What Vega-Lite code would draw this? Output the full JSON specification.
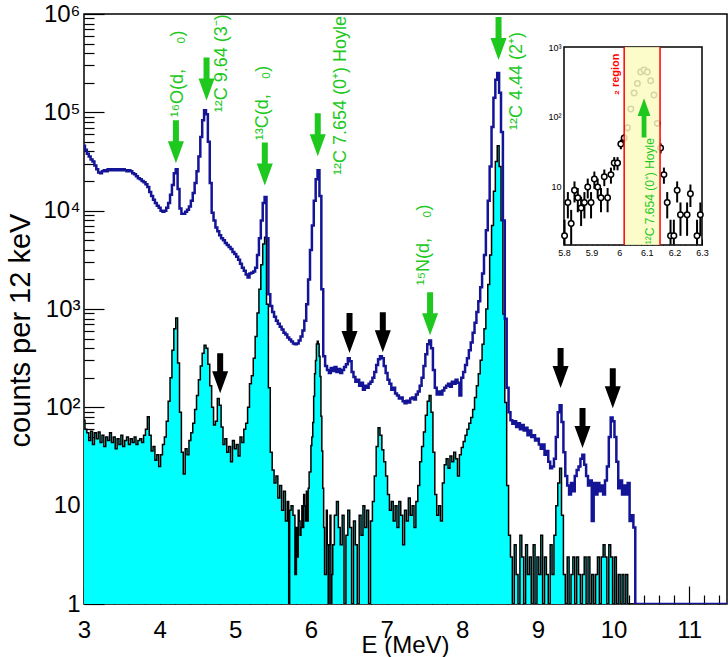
{
"$schema": "https://vega.github.io/schema/vega-lite/v6.json",
"width": 643, "height": 590,
"autosize": "none",
"padding": {"left": 84, "top": 14, "right": 1, "bottom": 53},
"background": "white",
"config": {"view": {"stroke": "black", "strokeWidth": 1.5}, "font": "Liberation Sans", "axis": {"labelOverlap": false, "labelFlush": false, "labelBound": false, "domain": false, "grid": false, "tickColor": "black", "labelColor": "black", "labelFont": "Liberation Sans", "titleFont": "Liberation Sans", "titleColor": "black", "titleFontWeight": "normal", "zindex": 1}},
"datasets": {
"blue": [
{"e":3.000,"n":45700},{"e":3.025,"n":41700},{"e":3.050,"n":38000},{"e":3.075,"n":35500},{"e":3.100,"n":33100},{"e":3.125,"n":31600},{"e":3.150,"n":28800},{"e":3.175,"n":26300},{"e":3.200,"n":24500},{"e":3.225,"n":24000},{"e":3.250,"n":25100},{"e":3.275,"n":25700},{"e":3.300,"n":25100},{"e":3.325,"n":26300},{"e":3.350,"n":25700},{"e":3.375,"n":26300},{"e":3.400,"n":25700},{"e":3.425,"n":26300},{"e":3.450,"n":25700},{"e":3.475,"n":26300},{"e":3.500,"n":25700},{"e":3.525,"n":26300},{"e":3.550,"n":25700},{"e":3.575,"n":25100},{"e":3.600,"n":25700},{"e":3.625,"n":25100},{"e":3.650,"n":24000},{"e":3.675,"n":23400},{"e":3.700,"n":22400},{"e":3.725,"n":21400},{"e":3.750,"n":20900},{"e":3.775,"n":20000},{"e":3.800,"n":19500},{"e":3.825,"n":18600},{"e":3.850,"n":17400},{"e":3.875,"n":15500},{"e":3.900,"n":14100},{"e":3.925,"n":12900},{"e":3.950,"n":12000},{"e":3.975,"n":11200},{"e":4.000,"n":10700},{"e":4.025,"n":10000},{"e":4.050,"n":9770},{"e":4.075,"n":10000},{"e":4.100,"n":10700},{"e":4.125,"n":12000},{"e":4.150,"n":14500},{"e":4.175,"n":18200},{"e":4.200,"n":24000},{"e":4.225,"n":26300},{"e":4.250,"n":16600},{"e":4.275,"n":10500},{"e":4.300,"n":9330},{"e":4.325,"n":9330},{"e":4.350,"n":9770},{"e":4.375,"n":10200},{"e":4.400,"n":11000},{"e":4.425,"n":12600},{"e":4.450,"n":15100},{"e":4.475,"n":19100},{"e":4.500,"n":25100},{"e":4.525,"n":35500},{"e":4.550,"n":56200},{"e":4.575,"n":83200},{"e":4.600,"n":105000},{"e":4.625,"n":95500},{"e":4.650,"n":50100},{"e":4.675,"n":19100},{"e":4.700,"n":9550},{"e":4.725,"n":7940},{"e":4.750,"n":6760},{"e":4.775,"n":6170},{"e":4.800,"n":5620},{"e":4.825,"n":5250},{"e":4.850,"n":5010},{"e":4.875,"n":4680},{"e":4.900,"n":4470},{"e":4.925,"n":4270},{"e":4.950,"n":4070},{"e":4.975,"n":3800},{"e":5.000,"n":3630},{"e":5.025,"n":3390},{"e":5.050,"n":3160},{"e":5.075,"n":2880},{"e":5.100,"n":2630},{"e":5.125,"n":2450},{"e":5.150,"n":2240},{"e":5.175,"n":2090},{"e":5.200,"n":2290},{"e":5.225,"n":2340},{"e":5.250,"n":2400},{"e":5.275,"n":2630},{"e":5.300,"n":3550},{"e":5.325,"n":5250},{"e":5.350,"n":7940},{"e":5.375,"n":12000},{"e":5.400,"n":13800},{"e":5.425,"n":5250},{"e":5.450,"n":1410},{"e":5.475,"n":1070},{"e":5.500,"n":933},{"e":5.525,"n":832},{"e":5.550,"n":759},{"e":5.575,"n":708},{"e":5.600,"n":661},{"e":5.625,"n":617},{"e":5.650,"n":575},{"e":5.675,"n":550},{"e":5.700,"n":513},{"e":5.725,"n":490},{"e":5.750,"n":468},{"e":5.775,"n":447},{"e":5.800,"n":437},{"e":5.825,"n":447},{"e":5.850,"n":479},{"e":5.875,"n":525},{"e":5.900,"n":603},{"e":5.925,"n":759},{"e":5.950,"n":1120},{"e":5.975,"n":1995},{"e":6.000,"n":3980},{"e":6.025,"n":7080},{"e":6.050,"n":12600},{"e":6.075,"n":20900},{"e":6.100,"n":25700},{"e":6.125,"n":14100},{"e":6.150,"n":1585},{"e":6.175,"n":331},{"e":6.200,"n":263},{"e":6.225,"n":240},{"e":6.250,"n":224},{"e":6.275,"n":251},{"e":6.300,"n":234},{"e":6.325,"n":257},{"e":6.350,"n":229},{"e":6.375,"n":245},{"e":6.400,"n":224},{"e":6.425,"n":240},{"e":6.450,"n":257},{"e":6.475,"n":275},{"e":6.500,"n":316},{"e":6.525,"n":295},{"e":6.550,"n":229},{"e":6.575,"n":204},{"e":6.600,"n":182},{"e":6.625,"n":191},{"e":6.650,"n":166},{"e":6.675,"n":178},{"e":6.700,"n":151},{"e":6.725,"n":166},{"e":6.750,"n":158},{"e":6.775,"n":174},{"e":6.800,"n":182},{"e":6.825,"n":200},{"e":6.850,"n":229},{"e":6.875,"n":269},{"e":6.900,"n":309},{"e":6.925,"n":331},{"e":6.950,"n":316},{"e":6.975,"n":263},{"e":7.000,"n":224},{"e":7.025,"n":191},{"e":7.050,"n":174},{"e":7.075,"n":151},{"e":7.100,"n":158},{"e":7.125,"n":138},{"e":7.150,"n":132},{"e":7.175,"n":123},{"e":7.200,"n":126},{"e":7.225,"n":115},{"e":7.250,"n":110},{"e":7.275,"n":117},{"e":7.300,"n":112},{"e":7.325,"n":123},{"e":7.350,"n":126},{"e":7.375,"n":120},{"e":7.400,"n":135},{"e":7.425,"n":145},{"e":7.450,"n":166},{"e":7.475,"n":200},{"e":7.500,"n":263},{"e":7.525,"n":347},{"e":7.550,"n":437},{"e":7.575,"n":479},{"e":7.600,"n":398},{"e":7.625,"n":240},{"e":7.650,"n":158},{"e":7.675,"n":135},{"e":7.700,"n":145},{"e":7.725,"n":135},{"e":7.750,"n":148},{"e":7.775,"n":158},{"e":7.800,"n":166},{"e":7.825,"n":174},{"e":7.850,"n":162},{"e":7.875,"n":182},{"e":7.900,"n":174},{"e":7.925,"n":191},{"e":7.950,"n":178},{"e":7.975,"n":132},{"e":8.000,"n":200},{"e":8.025,"n":229},{"e":8.050,"n":269},{"e":8.075,"n":316},{"e":8.100,"n":380},{"e":8.125,"n":457},{"e":8.150,"n":575},{"e":8.175,"n":724},{"e":8.200,"n":933},{"e":8.225,"n":1200},{"e":8.250,"n":1660},{"e":8.275,"n":2290},{"e":8.300,"n":3550},{"e":8.325,"n":6310},{"e":8.350,"n":12600},{"e":8.375,"n":28200},{"e":8.400,"n":70800},{"e":8.425,"n":141000},{"e":8.450,"n":214000},{"e":8.475,"n":251000},{"e":8.500,"n":158000},{"e":8.525,"n":63100},{"e":8.550,"n":7940},{"e":8.575,"n":794},{"e":8.600,"n":158},{"e":8.625,"n":89},{"e":8.650,"n":74},{"e":8.675,"n":68},{"e":8.700,"n":72},{"e":8.725,"n":63},{"e":8.750,"n":69},{"e":8.775,"n":60},{"e":8.800,"n":66},{"e":8.825,"n":58},{"e":8.850,"n":62},{"e":8.875,"n":52},{"e":8.900,"n":58},{"e":8.925,"n":50},{"e":8.950,"n":52},{"e":8.975,"n":46},{"e":9.000,"n":48},{"e":9.025,"n":42},{"e":9.050,"n":38},{"e":9.075,"n":42},{"e":9.100,"n":33},{"e":9.125,"n":36},{"e":9.150,"n":28},{"e":9.175,"n":24},{"e":9.200,"n":25},{"e":9.225,"n":30},{"e":9.250,"n":50},{"e":9.275,"n":89},{"e":9.300,"n":105},{"e":9.325,"n":71},{"e":9.350,"n":35},{"e":9.375,"n":20},{"e":9.400,"n":16},{"e":9.425,"n":13},{"e":9.450,"n":17},{"e":9.475,"n":14},{"e":9.500,"n":20},{"e":9.525,"n":23},{"e":9.550,"n":25},{"e":9.575,"n":30},{"e":9.600,"n":33},{"e":9.625,"n":26},{"e":9.650,"n":20},{"e":9.675,"n":16},{"e":9.700,"n":18},{"e":9.725,"n":7},{"e":9.750,"n":17},{"e":9.775,"n":13},{"e":9.800,"n":17},{"e":9.825,"n":14},{"e":9.850,"n":16},{"e":9.875,"n":13},{"e":9.900,"n":18},{"e":9.925,"n":25},{"e":9.950,"n":50},{"e":9.975,"n":79},{"e":10.000,"n":72},{"e":10.025,"n":50},{"e":10.050,"n":28},{"e":10.075,"n":15},{"e":10.100,"n":18},{"e":10.125,"n":13},{"e":10.150,"n":16},{"e":10.175,"n":13},{"e":10.200,"n":17},{"e":10.225,"n":7},{"e":10.250,"n":8},{"e":10.275,"n":6},{"e":10.300,"n":1},{"e":11.500,"n":1}
],
"cyan": [
{"e":3.000,"n":74},{"e":3.025,"n":60},{"e":3.050,"n":55},{"e":3.075,"n":46},{"e":3.100,"n":57},{"e":3.125,"n":42},{"e":3.150,"n":55},{"e":3.175,"n":48},{"e":3.200,"n":56},{"e":3.225,"n":44},{"e":3.250,"n":52},{"e":3.275,"n":40},{"e":3.300,"n":50},{"e":3.325,"n":46},{"e":3.350,"n":55},{"e":3.375,"n":44},{"e":3.400,"n":50},{"e":3.425,"n":38},{"e":3.450,"n":48},{"e":3.475,"n":42},{"e":3.500,"n":52},{"e":3.525,"n":40},{"e":3.550,"n":46},{"e":3.575,"n":50},{"e":3.600,"n":42},{"e":3.625,"n":48},{"e":3.650,"n":44},{"e":3.675,"n":50},{"e":3.700,"n":42},{"e":3.725,"n":46},{"e":3.750,"n":48},{"e":3.775,"n":44},{"e":3.800,"n":52},{"e":3.825,"n":60},{"e":3.850,"n":80},{"e":3.875,"n":52},{"e":3.900,"n":36},{"e":3.925,"n":40},{"e":3.950,"n":29},{"e":3.975,"n":33},{"e":4.000,"n":25},{"e":4.025,"n":33},{"e":4.050,"n":42},{"e":4.075,"n":50},{"e":4.100,"n":72},{"e":4.125,"n":115},{"e":4.150,"n":200},{"e":4.175,"n":380},{"e":4.200,"n":630},{"e":4.225,"n":810},{"e":4.250,"n":282},{"e":4.275,"n":89},{"e":4.300,"n":35},{"e":4.325,"n":21},{"e":4.350,"n":38},{"e":4.375,"n":33},{"e":4.400,"n":46},{"e":4.425,"n":55},{"e":4.450,"n":69},{"e":4.475,"n":95},{"e":4.500,"n":132},{"e":4.525,"n":191},{"e":4.550,"n":263},{"e":4.575,"n":355},{"e":4.600,"n":427},{"e":4.625,"n":398},{"e":4.650,"n":275},{"e":4.675,"n":166},{"e":4.700,"n":100},{"e":4.725,"n":66},{"e":4.750,"n":72},{"e":4.775,"n":123},{"e":4.800,"n":105},{"e":4.825,"n":63},{"e":4.850,"n":42},{"e":4.875,"n":48},{"e":4.900,"n":35},{"e":4.925,"n":40},{"e":4.950,"n":28},{"e":4.975,"n":46},{"e":5.000,"n":38},{"e":5.025,"n":42},{"e":5.050,"n":32},{"e":5.075,"n":50},{"e":5.100,"n":44},{"e":5.125,"n":60},{"e":5.150,"n":69},{"e":5.175,"n":100},{"e":5.200,"n":174},{"e":5.225,"n":209},{"e":5.250,"n":316},{"e":5.275,"n":525},{"e":5.300,"n":912},{"e":5.325,"n":1585},{"e":5.350,"n":2820},{"e":5.375,"n":4570},{"e":5.400,"n":5370},{"e":5.425,"n":1120},{"e":5.450,"n":158},{"e":5.475,"n":35},{"e":5.500,"n":23},{"e":5.525,"n":17},{"e":5.550,"n":20},{"e":5.575,"n":12},{"e":5.600,"n":16},{"e":5.625,"n":9},{"e":5.650,"n":14},{"e":5.675,"n":7},{"e":5.700,"n":11},{"e":5.712,"n":1},{"e":5.725,"n":9},{"e":5.750,"n":10},{"e":5.775,"n":8},{"e":5.802,"n":2},{"e":5.814,"n":6},{"e":5.826,"n":3},{"e":5.838,"n":9},{"e":5.850,"n":7},{"e":5.862,"n":5},{"e":5.874,"n":6},{"e":5.886,"n":10},{"e":5.898,"n":6},{"e":5.910,"n":13},{"e":5.922,"n":10},{"e":5.934,"n":7},{"e":5.946,"n":14},{"e":5.958,"n":7},{"e":5.970,"n":15},{"e":5.982,"n":22},{"e":5.994,"n":22},{"e":6.006,"n":41},{"e":6.018,"n":50},{"e":6.030,"n":70},{"e":6.042,"n":130},{"e":6.054,"n":220},{"e":6.066,"n":300},{"e":6.078,"n":440},{"e":6.090,"n":470},{"e":6.102,"n":440},{"e":6.114,"n":330},{"e":6.126,"n":206},{"e":6.138,"n":81},{"e":6.150,"n":36},{"e":6.162,"n":15},{"e":6.174,"n":6},{"e":6.186,"n":2},{"e":6.198,"n":2},{"e":6.210,"n":9},{"e":6.222,"n":4},{"e":6.234,"n":1},{"e":6.246,"n":4},{"e":6.258,"n":8},{"e":6.270,"n":1},{"e":6.282,"n":2},{"e":6.294,"n":4},{"e":6.325,"n":8},{"e":6.350,"n":11},{"e":6.375,"n":6},{"e":6.400,"n":4},{"e":6.425,"n":8},{"e":6.450,"n":1},{"e":6.475,"n":5},{"e":6.500,"n":9},{"e":6.525,"n":6},{"e":6.550,"n":1},{"e":6.575,"n":7},{"e":6.600,"n":4},{"e":6.625,"n":1},{"e":6.650,"n":8},{"e":6.675,"n":5},{"e":6.700,"n":10},{"e":6.725,"n":6},{"e":6.750,"n":9},{"e":6.775,"n":1},{"e":6.800,"n":7},{"e":6.825,"n":11},{"e":6.850,"n":20},{"e":6.875,"n":40},{"e":6.900,"n":62},{"e":6.925,"n":52},{"e":6.950,"n":37},{"e":6.975,"n":28},{"e":7.000,"n":20},{"e":7.025,"n":13},{"e":7.050,"n":9},{"e":7.075,"n":11},{"e":7.100,"n":7},{"e":7.125,"n":10},{"e":7.150,"n":6},{"e":7.175,"n":11},{"e":7.200,"n":8},{"e":7.225,"n":4},{"e":7.250,"n":9},{"e":7.275,"n":7},{"e":7.300,"n":12},{"e":7.325,"n":8},{"e":7.350,"n":10},{"e":7.375,"n":6},{"e":7.400,"n":11},{"e":7.425,"n":16},{"e":7.450,"n":28},{"e":7.475,"n":40},{"e":7.500,"n":56},{"e":7.525,"n":83},{"e":7.550,"n":115},{"e":7.575,"n":132},{"e":7.600,"n":89},{"e":7.625,"n":35},{"e":7.650,"n":13},{"e":7.675,"n":8},{"e":7.700,"n":10},{"e":7.725,"n":7},{"e":7.750,"n":17},{"e":7.775,"n":26},{"e":7.800,"n":30},{"e":7.825,"n":24},{"e":7.850,"n":32},{"e":7.875,"n":28},{"e":7.900,"n":35},{"e":7.925,"n":30},{"e":7.950,"n":20},{"e":7.975,"n":33},{"e":8.000,"n":39},{"e":8.025,"n":45},{"e":8.050,"n":52},{"e":8.075,"n":60},{"e":8.100,"n":69},{"e":8.125,"n":79},{"e":8.150,"n":95},{"e":8.175,"n":126},{"e":8.200,"n":166},{"e":8.225,"n":219},{"e":8.250,"n":302},{"e":8.275,"n":437},{"e":8.300,"n":631},{"e":8.325,"n":1000},{"e":8.350,"n":1780},{"e":8.375,"n":3550},{"e":8.400,"n":7080},{"e":8.425,"n":15800},{"e":8.450,"n":31600},{"e":8.475,"n":45700},{"e":8.500,"n":28200},{"e":8.525,"n":7940},{"e":8.550,"n":891},{"e":8.575,"n":112},{"e":8.600,"n":16},{"e":8.625,"n":5},{"e":8.650,"n":3},{"e":8.675,"n":1},{"e":8.700,"n":4},{"e":8.725,"n":2},{"e":8.750,"n":1},{"e":8.775,"n":5},{"e":8.800,"n":3},{"e":8.825,"n":1},{"e":8.850,"n":4},{"e":8.875,"n":2},{"e":8.900,"n":3},{"e":8.925,"n":1},{"e":8.950,"n":4},{"e":8.975,"n":1},{"e":9.000,"n":3},{"e":9.025,"n":2},{"e":9.050,"n":5},{"e":9.075,"n":1},{"e":9.100,"n":3},{"e":9.125,"n":2},{"e":9.150,"n":1},{"e":9.175,"n":4},{"e":9.200,"n":2},{"e":9.225,"n":5},{"e":9.250,"n":10},{"e":9.275,"n":17},{"e":9.300,"n":24},{"e":9.325,"n":8},{"e":9.350,"n":2},{"e":9.375,"n":1},{"e":9.400,"n":3},{"e":9.425,"n":1},{"e":9.450,"n":2},{"e":9.475,"n":3},{"e":9.500,"n":1},{"e":9.525,"n":3},{"e":9.550,"n":2},{"e":9.575,"n":1},{"e":9.600,"n":2},{"e":9.625,"n":3},{"e":9.650,"n":1},{"e":9.675,"n":3},{"e":9.700,"n":1},{"e":9.725,"n":2},{"e":9.750,"n":1},{"e":9.775,"n":2},{"e":9.800,"n":3},{"e":9.825,"n":1},{"e":9.850,"n":3},{"e":9.875,"n":4},{"e":9.900,"n":3},{"e":9.925,"n":1},{"e":9.950,"n":4},{"e":9.975,"n":3},{"e":10.000,"n":1},{"e":10.025,"n":3},{"e":10.050,"n":1},{"e":10.075,"n":2},{"e":10.100,"n":1},{"e":10.125,"n":2},{"e":10.150,"n":1},{"e":10.175,"n":2},{"e":10.200,"n":1},{"e":11.500,"n":1}
],
"garrows": [{"e":4.215,"n":30300},{"e":4.62,"n":132000},{"e":5.39,"n":18000},{"e":6.09,"n":35700},{"e":7.575,"n":540},{"e":8.48,"n":340000}],
"karrows": [{"e":4.8,"n":139},{"e":6.51,"n":356},{"e":6.95,"n":364},{"e":9.3,"n":157},{"e":9.59,"n":38.5},{"e":9.99,"n":98}],
"labels": [{"e":4.24,"n":89000,"t":"¹⁶O(d,\u00a0\u00a0\u00a0\u00a0\u00a0₀)"},{"e":4.82,"n":100000,"t":"¹²C 9.64 (3⁻)"},{"e":5.36,"n":52000,"t":"¹³C(d,\u00a0\u00a0\u00a0₀)"},{"e":6.40,"n":23000,"t":"¹²C 7.654 (0⁺) Hoyle"},{"e":7.50,"n":1740,"t":"¹⁵N(d,\u00a0\u00a0\u00a0\u00a0₀)"},{"e":8.73,"n":66000,"t":"¹²C 4.44 (2⁺)"}],
"inset": [
{"e":5.802,"n":2,"lo":1.5,"hi":3.4},{"e":5.814,"n":6,"lo":3.55,"hi":8.45},{"e":5.826,"n":3,"lo":1.5,"hi":4.7},{"e":5.838,"n":9,"lo":6,"hi":12},{"e":5.850,"n":7,"lo":4.35,"hi":9.65},{"e":5.862,"n":5,"lo":2.76,"hi":7.24},{"e":5.874,"n":6,"lo":3.55,"hi":8.45},{"e":5.886,"n":10,"lo":6.84,"hi":13.16},{"e":5.898,"n":6,"lo":3.55,"hi":8.45},{"e":5.910,"n":13,"lo":9.39,"hi":16.61},{"e":5.922,"n":10,"lo":6.84,"hi":13.16},{"e":5.934,"n":7,"lo":4.35,"hi":9.65},{"e":5.946,"n":14,"lo":10.26,"hi":17.74},{"e":5.958,"n":7,"lo":4.35,"hi":9.65},{"e":5.970,"n":15,"lo":11.13,"hi":18.87},{"e":5.982,"n":22,"lo":17.3,"hi":26.7},{"e":5.994,"n":22,"lo":17.3,"hi":26.7},{"e":6.006,"n":41,"lo":34.6,"hi":47.4},{"e":6.018,"n":50,"lo":42.9,"hi":57.1},{"e":6.030,"n":70,"lo":61.6,"hi":78.4},{"e":6.042,"n":130,"lo":118.6,"hi":141.4},{"e":6.054,"n":220,"lo":205.2,"hi":234.8},{"e":6.066,"n":300,"lo":282.7,"hi":317.3},{"e":6.078,"n":440,"lo":419,"hi":461},{"e":6.090,"n":470,"lo":448,"hi":492},{"e":6.102,"n":440,"lo":419,"hi":461},{"e":6.114,"n":330,"lo":311.8,"hi":348.2},{"e":6.126,"n":206,"lo":191.6,"hi":220.4},{"e":6.138,"n":81,"lo":72,"hi":90},{"e":6.150,"n":36,"lo":30,"hi":42},{"e":6.162,"n":15,"lo":11.1,"hi":18.9},{"e":6.174,"n":6,"lo":3.55,"hi":8.45},{"e":6.186,"n":2,"lo":1.5,"hi":3.4},{"e":6.198,"n":2,"lo":1.5,"hi":3.4},{"e":6.210,"n":9,"lo":6,"hi":12},{"e":6.222,"n":4,"lo":2,"hi":6},{"e":6.246,"n":4,"lo":2,"hi":6},{"e":6.258,"n":8,"lo":5.17,"hi":10.83},{"e":6.282,"n":2,"lo":1.5,"hi":3.4},{"e":6.294,"n":4,"lo":2,"hi":6}
],
"band": [{"a":6.018,"b":6.148}],
"redlines": [{"e":6.018},{"e":6.148}],
"iarrow": [{"e":6.09,"n":185}],
"itext": [{"e":6.112,"n":1.52,"t":"¹²C 7.654 (0⁺) Hoyle"}],
"rtext": [{"e":5.988,"n":206,"t":"₂ region"}]
},
"layer": [
{
"layer": [
{"data": {"name": "cyan"}, "mark": {"type": "area", "interpolate": "step", "color": "#00ffff", "clip": true},
 "encoding": {
  "x": {"field": "e", "type": "quantitative", "scale": {"domain": [3, 11.5], "nice": false, "zero": false},
   "axis": {"orient": "bottom", "values": [3,4,5,6,7,8,9,10,11], "format": "d", "tickSize": -18, "tickWidth": 1.2, "labelPadding": 32, "labelFontSize": 24,
    "title": "E (MeV)", "titleFontSize": 24, "titleX": 321, "titleY": 48, "titleAlign": "center", "titleBaseline": "alphabetic", "titleAngle": 0}},
  "y": {"field": "n", "type": "quantitative", "scale": {"type": "log", "domain": [1, 1000000], "nice": false},
   "axis": {"orient": "left", "values": [1,10,100,1000,10000,100000,1000000],
    "labelExpr": "datum.value == 1 ? '1' : datum.value == 10 ? '10' : datum.value == 100 ? '10²' : datum.value == 1000 ? '10³' : datum.value == 10000 ? '10⁴' : datum.value == 100000 ? '10⁵' : '10⁶'",
    "tickSize": -20, "tickWidth": 1.2, "labelPadding": 24, "labelFontSize": 24,
    "title": "counts per 12 keV", "titleFontSize": 29, "titleX": -64, "titleY": 316, "titleAngle": 270, "titleAlign": "center", "titleBaseline": "middle"}},
  "y2": {"datum": 1}
 }},
{"data": {"name": "cyan"}, "mark": {"type": "line", "interpolate": "step", "color": "black", "strokeWidth": 1.5, "clip": true},
 "encoding": {
  "x": {"field": "e", "type": "quantitative",
   "axis": {"orient": "bottom", "values": [3.2,3.4,3.6,3.8,4.2,4.4,4.6,4.8,5.2,5.4,5.6,5.8,6.2,6.4,6.6,6.8,7.2,7.4,7.6,7.8,8.2,8.4,8.6,8.8,9.2,9.4,9.6,9.8,10.2,10.4,10.6,10.8,11.2,11.4], "labels": false, "tickSize": -9, "tickWidth": 1.2, "title": null}},
  "y": {"field": "n", "type": "quantitative",
   "axis": {"orient": "left", "values": [2,3,4,5,6,7,8,9,20,30,40,50,60,70,80,90,200,300,400,500,600,700,800,900,2000,3000,4000,5000,6000,7000,8000,9000,20000,30000,40000,50000,60000,70000,80000,90000,200000,300000,400000,500000,600000,700000,800000,900000], "labels": false, "tickSize": -10, "tickWidth": 1.2, "title": null}}
 }},
{"data": {"name": "blue"}, "mark": {"type": "line", "interpolate": "step", "color": "#141496", "strokeWidth": 2.5, "clip": true},
 "encoding": {"x": {"field": "e", "type": "quantitative", "axis": null}, "y": {"field": "n", "type": "quantitative", "axis": null}}},
{"data": {"name": "garrows"}, "mark": {"type": "point", "shape": "M-0.3,-4.3L0.3,-4.3L0.3,-2.2L0.8,-2.2L0,0L-0.8,-2.2L-0.3,-2.2Z", "size": 400, "filled": true, "color": "#1ec81e", "opacity": 1, "strokeWidth": 0},
 "encoding": {"x": {"field": "e", "type": "quantitative", "axis": null}, "y": {"field": "n", "type": "quantitative", "axis": null}}},
{"data": {"name": "karrows"}, "mark": {"type": "point", "shape": "M-0.3,-4.0L0.3,-4.0L0.3,-2.2L0.8,-2.2L0,0L-0.8,-2.2L-0.3,-2.2Z", "size": 400, "filled": true, "color": "black", "opacity": 1, "strokeWidth": 0},
 "encoding": {"x": {"field": "e", "type": "quantitative", "axis": null}, "y": {"field": "n", "type": "quantitative", "axis": null}}},
{"data": {"name": "labels"}, "mark": {"type": "text", "angle": 270, "align": "left", "baseline": "middle", "fontSize": 18, "font": "Liberation Sans", "color": "#1ec81e"},
 "encoding": {"x": {"field": "e", "type": "quantitative", "axis": null}, "y": {"field": "n", "type": "quantitative", "axis": null}, "text": {"field": "t"}}}
],
"resolve": {"axis": {"x": "independent", "y": "independent"}}
},
{
"layer": [
{"data": {"values": [{}]}, "mark": {"type": "rect", "fill": "white", "stroke": "black", "strokeWidth": 1.5},
 "encoding": {
  "x": {"datum": 5.8, "type": "quantitative", "scale": {"domain": [5.8, 6.3], "range": [480, 618], "nice": false, "zero": false},
   "axis": {"orient": "bottom", "offset": -359, "title": null, "values": [5.8,5.9,6,6.1,6.2,6.3], "labelExpr": "'' + datum.value", "tickSize": -6, "tickWidth": 1, "labelPadding": 9, "labelFontSize": 9}},
  "x2": {"datum": 6.3},
  "y": {"datum": 1.48, "type": "quantitative", "scale": {"type": "log", "domain": [1.48, 1000], "range": [231, 33], "nice": false},
   "axis": {"orient": "left", "offset": -480, "title": null, "values": [10,100,1000], "labelExpr": "datum.value == 10 ? '10' : datum.value == 100 ? '10²' : '10³'", "tickSize": -6, "tickWidth": 1, "labelPadding": 9, "labelFontSize": 9}},
  "y2": {"datum": 1000}
 }},
{"data": {"name": "inset"}, "mark": {"type": "rule", "color": "black", "strokeWidth": 2},
 "encoding": {
  "x": {"field": "e", "type": "quantitative", "axis": {"orient": "bottom", "offset": -359, "title": null, "labels": false, "values": [5.82,5.84,5.86,5.88,5.92,5.94,5.96,5.98,6.02,6.04,6.06,6.08,6.12,6.14,6.16,6.18,6.22,6.24,6.26,6.28], "tickSize": -3, "tickWidth": 1}},
  "y": {"field": "lo", "type": "quantitative", "axis": {"orient": "left", "offset": -480, "title": null, "labels": false, "values": [2,3,4,5,6,7,8,9,20,30,40,50,60,70,80,90,200,300,400,500,600,700,800,900], "tickSize": -3, "tickWidth": 1}},
  "y2": {"field": "hi"}}},
{"data": {"name": "inset"}, "mark": {"type": "point", "shape": "circle", "size": 30, "filled": true, "fill": "white", "stroke": "black", "strokeWidth": 1.5, "opacity": 1},
 "encoding": {"x": {"field": "e", "type": "quantitative", "axis": null}, "y": {"field": "n", "type": "quantitative", "axis": null}}},
{"data": {"name": "band"}, "mark": {"type": "rect", "color": "#fbfbc2", "opacity": 0.85},
 "encoding": {"x": {"field": "a", "type": "quantitative", "axis": null}, "x2": {"field": "b"}, "y": {"datum": 1.48, "type": "quantitative", "axis": null}, "y2": {"datum": 1000}}},
{"data": {"name": "redlines"}, "mark": {"type": "rule", "color": "#ff0000", "strokeWidth": 1.5},
 "encoding": {"x": {"field": "e", "type": "quantitative", "axis": null}, "y": {"datum": 1.48, "type": "quantitative", "axis": null}, "y2": {"datum": 1000}}},
{"data": {"name": "iarrow"}, "mark": {"type": "point", "shape": "M-0.3,4.9L0.3,4.9L0.3,2.2L0.8,2.2L0,0L-0.8,2.2L-0.3,2.2Z", "size": 256, "filled": true, "color": "#1ec81e", "opacity": 1, "strokeWidth": 0},
 "encoding": {"x": {"field": "e", "type": "quantitative", "axis": null}, "y": {"field": "n", "type": "quantitative", "axis": null}}},
{"data": {"name": "itext"}, "mark": {"type": "text", "angle": 270, "align": "left", "baseline": "middle", "fontSize": 12, "font": "Liberation Sans", "color": "#1ec81e"},
 "encoding": {"x": {"field": "e", "type": "quantitative", "axis": null}, "y": {"field": "n", "type": "quantitative", "axis": null}, "text": {"field": "t"}}},
{"data": {"name": "rtext"}, "mark": {"type": "text", "angle": 270, "align": "left", "baseline": "middle", "fontSize": 11, "fontWeight": "bold", "font": "Liberation Sans", "color": "#ff0000"},
 "encoding": {"x": {"field": "e", "type": "quantitative", "axis": null}, "y": {"field": "n", "type": "quantitative", "axis": null}, "text": {"field": "t"}}}
],
"resolve": {"axis": {"x": "independent", "y": "independent"}}
}
],
"resolve": {"scale": {"x": "independent", "y": "independent"}}
}
